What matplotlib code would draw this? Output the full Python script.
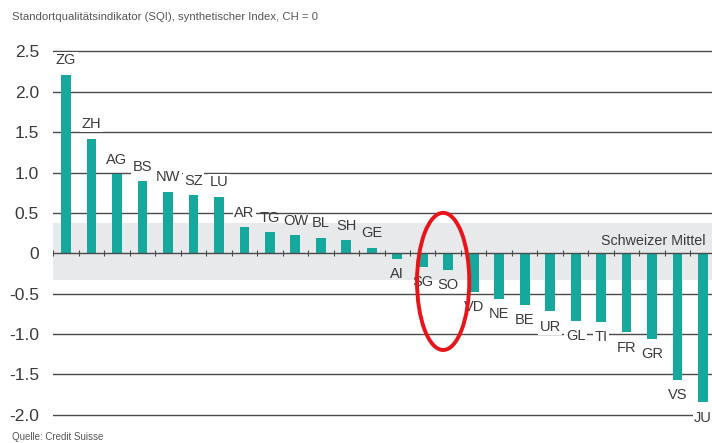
import matplotlib.pyplot as plt
import numpy as np
from matplotlib.patches import Ellipse

# Standortqualitaetsindikator by canton
cantons = ["ZG", "ZH", "AG", "BS", "NW", "SZ", "LU", "AR", "TG", "OW", "BL", "SH", "GE",
           "AI", "SG", "SO", "VD", "NE", "BE", "UR", "GL", "TI", "FR", "GR", "VS", "JU"]
sqi = [2.21, 1.42, 0.98, 0.89, 0.76, 0.72, 0.70, 0.32, 0.26, 0.22, 0.19, 0.16, 0.07,
       -0.07, -0.17, -0.21, -0.48, -0.57, -0.64, -0.72, -0.84, -0.85, -0.98, -1.06, -1.57, -1.85]
yticks = [2.5, 2.0, 1.5, 1.0, 0.5, 0, -0.5, -1.0, -1.5, -2.0]
ytick_labels = ["2.5", "2.0", "1.5", "1.0", "0.5", "0", "-0.5", "-1.0", "-1.5", "-2.0"]
band_lo, band_hi = -0.33, 0.37   # "Schweizer Mittel" range
highlight = "SO"

plt.rcParams['font.family'] = ['Liberation Sans', 'DejaVu Sans']
txt = "#3a3a3a"
teal = "#17a89d"

fig = plt.figure(figsize=(7.12, 4.43), dpi=100)
ax = fig.add_axes([0.0744, 0.046, 0.9256, 0.856])

x = np.arange(len(cantons))
ax.set_xlim(-0.51, len(cantons) - 1 + 0.35)
ax.set_ylim(-2.1, 2.6)

ax.axhspan(band_lo, band_hi, color="#e7e9eb", lw=0, zorder=0)
for v in yticks:
    if v != 0:
        ax.axhline(v, color="#4a4a4a", lw=1.0, zorder=1)
ax.axhline(0, color="#4a4a4a", lw=1.0, zorder=3)
# small ticks between categories on the zero line
ax.plot(np.arange(len(cantons) + 1) - 0.5, np.zeros(len(cantons) + 1), ls="none",
        marker="|", ms=5, mew=0.8, color="#4a4a4a", zorder=3)

ax.bar(x, sqi, width=0.38, color=teal, zorder=2)

for xi, name, v in zip(x, cantons, sqi):
    off = 10.5 if v >= 0 else -11
    bbox = None
    if abs(v) > 0.3:
        bbox = dict(boxstyle="square,pad=0.1", fc="white", ec="none")
    ax.annotate(name, (xi, v), xytext=(0, off), textcoords="offset points",
                ha="center", va="center", fontsize=10.5, color=txt, bbox=bbox, zorder=4)

ax.text(len(cantons) - 1 + 0.1, 0.15, "Schweizer Mittel", ha="right", va="center",
        fontsize=10.3, color=txt, zorder=4)

hi = cantons.index(highlight)
ax.add_patch(Ellipse((hi - 0.2, -0.35), 2.05, 1.7, fill=False, ec="#e8141a", lw=2.8, zorder=5))

ax.set_yticks(yticks)
ax.set_yticklabels(ytick_labels, fontsize=12.5, color=txt)
ax.tick_params(axis="y", length=0, pad=10)
ax.set_xticks([])
for s in ax.spines.values():
    s.set_visible(False)

fig.text(0.017, 0.961, "Standortqualitätsindikator (SQI), synthetischer Index, CH = 0",
         fontsize=8.2, color="#555555", va="center")
fig.text(0.017, 0.013, "Quelle: Credit Suisse", fontsize=7, color="#555555", va="center")

fig.savefig("out.png", dpi=100, facecolor="white")
